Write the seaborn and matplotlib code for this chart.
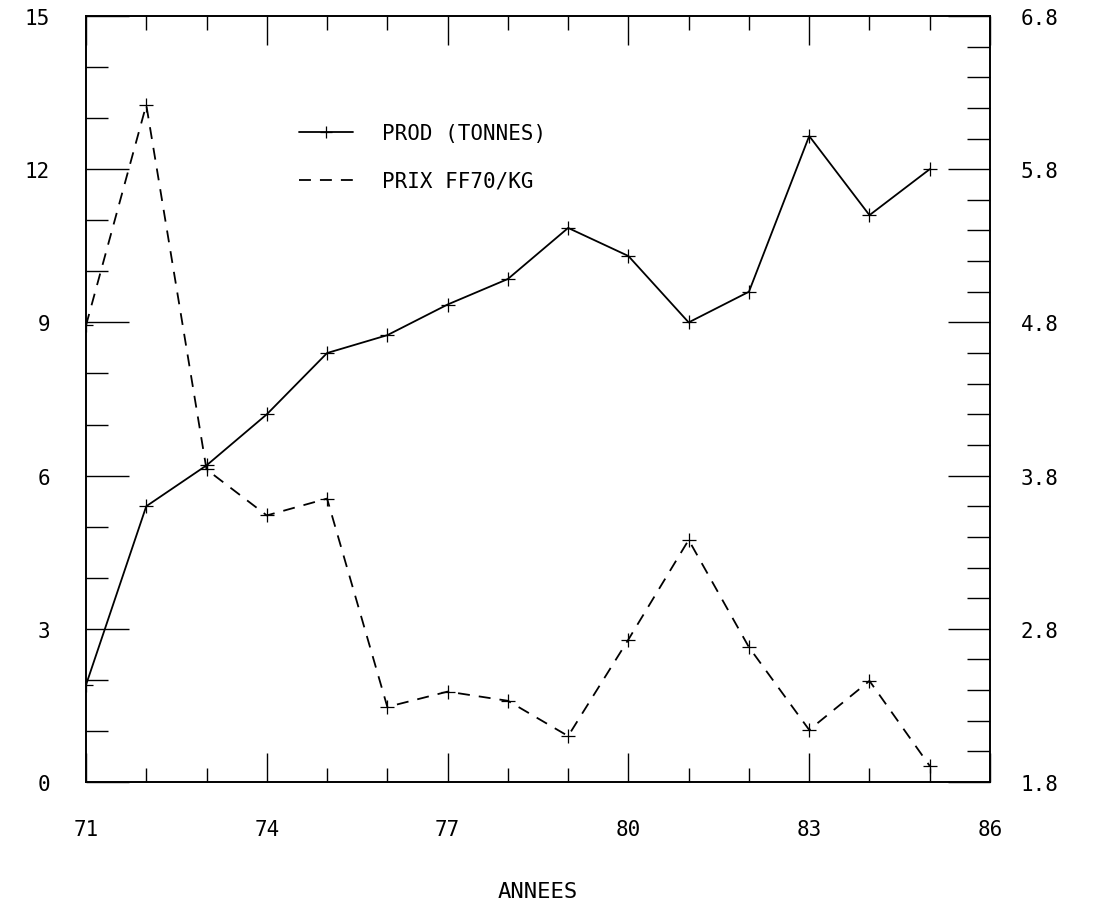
import matplotlib
matplotlib.use("Agg")
import matplotlib.pyplot as plt
from matplotlib.ticker import MultipleLocator, FixedLocator
from matplotlib.lines import Line2D
import seaborn as sns
import pandas as pd

# ---- data ----
years = [71, 72, 73, 74, 75, 76, 77, 78, 79, 80, 81, 82, 83, 84, 85]
prod_tonnes = [1.9, 5.4, 6.2, 7.2, 8.4, 8.75, 9.35, 9.85, 10.85, 10.3, 9.0, 9.6, 12.65, 11.1, 12.0]
prix_ff70_kg = [4.78, 6.22, 3.84, 3.54, 3.65, 2.29, 2.39, 2.33, 2.10, 2.73, 3.38, 2.68, 2.14, 2.46, 1.905]

x_ticks = [71, 74, 77, 80, 83, 86]
left_ticks = [0, 3, 6, 9, 12, 15]
right_ticks = [1.8, 2.8, 3.8, 4.8, 5.8, 6.8]
label_prod = "PROD (TONNES)"
label_prix = "PRIX FF70/KG"
x_title = "ANNEES"

df = pd.DataFrame({"annee": years, "prod": prod_tonnes, "prix": prix_ff70_kg})

sns.set_style("ticks")
plt.rcParams["font.family"] = ["DejaVu Sans Mono", "DejaVu Sans"]
plt.rcParams["font.size"] = 15
plt.rcParams["text.color"] = "black"
plt.rcParams["axes.labelcolor"] = "black"
plt.rcParams["xtick.color"] = "black"
plt.rcParams["ytick.color"] = "black"

fig = plt.figure(figsize=(10.95, 9.04), dpi=100)
ax = fig.add_axes([86 / 1095, 1 - 783 / 904, (990 - 86) / 1095, (783 - 17) / 904])
ax2 = ax.twinx()

lw = 1.3
dash = (6.6, 5)
sns.lineplot(data=df, x="annee", y="prod", ax=ax, color="black", linewidth=lw,
             marker="+", markersize=10, markeredgewidth=0.9, markeredgecolor="black",
             legend=False)
sns.lineplot(data=df, x="annee", y="prix", ax=ax2, color="black", linewidth=lw,
             marker="+", markersize=10, markeredgewidth=0.9, markeredgecolor="black",
             legend=False)
ax2.lines[0].set_dashes(dash)

ax.set_xlim(71, 86)
ax.set_ylim(0, 15)
ax2.set_ylim(1.8, 6.8)

ax.xaxis.set_major_locator(FixedLocator(x_ticks))
ax.xaxis.set_minor_locator(MultipleLocator(1))
ax.yaxis.set_major_locator(FixedLocator(left_ticks))
ax.yaxis.set_minor_locator(MultipleLocator(1))
ax2.yaxis.set_major_locator(FixedLocator(right_ticks))
ax2.yaxis.set_minor_locator(MultipleLocator(0.2))

ax.set_xticklabels([str(v) for v in x_ticks])
ax.set_yticklabels([str(v) for v in left_ticks])
ax2.set_yticklabels([f"{v:.1f}" for v in right_ticks])

ax.tick_params(axis="x", which="major", direction="in", length=21, width=1.0,
               top=True, bottom=True, pad=27, labelsize=15)
ax.tick_params(axis="x", which="minor", direction="in", length=10, width=1.0,
               top=True, bottom=True)
ax.tick_params(axis="y", which="major", direction="in", length=31, width=1.0,
               left=True, right=False, pad=26, labelsize=15)
ax.tick_params(axis="y", which="minor", direction="in", length=16, width=1.0,
               left=True, right=False)
ax2.tick_params(axis="y", which="major", direction="in", length=30, width=1.0,
                right=True, left=False, pad=22, labelsize=15)
ax2.tick_params(axis="y", which="minor", direction="in", length=16.5, width=1.0,
                right=True, left=False)

for a in (ax, ax2):
    for s in a.spines.values():
        s.set_visible(True)
        s.set_linewidth(1.2)
        s.set_color("black")

ax.set_xlabel(x_title, fontsize=16, labelpad=30)
ax.set_ylabel("")
ax2.set_ylabel("")

h_prod = Line2D([], [], color="black", linewidth=lw, marker="+", markersize=9,
                markeredgewidth=0.9)
h_prix = Line2D([], [], color="black", linewidth=lw, linestyle=(0, dash))
ax.legend([h_prod, h_prix], [label_prod, label_prix], loc="upper left",
          bbox_to_anchor=(0.215, 0.885), frameon=False, fontsize=15,
          handlelength=2.6, handletextpad=1.4, labelspacing=1.35)

fig.savefig("out.png", dpi=100, facecolor="white")
